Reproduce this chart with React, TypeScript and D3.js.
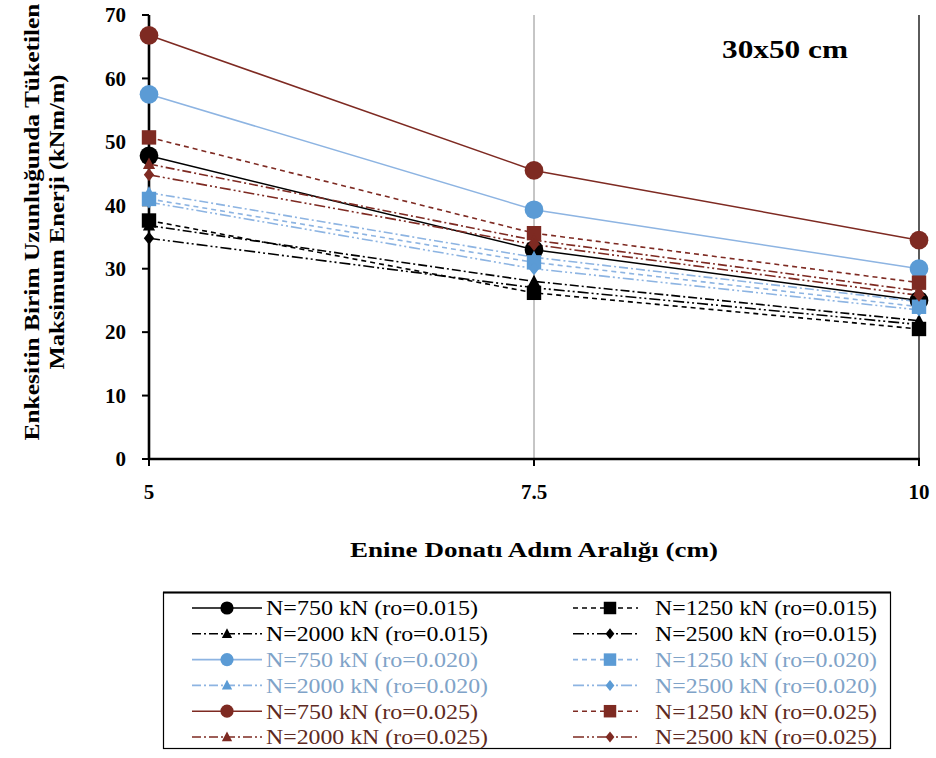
import React from "react";
import * as d3 from "d3";

const xValues = [5, 7.5, 10];
const xTickLabels = ["5", "7.5", "10"];
const yTicks = [0, 10, 20, 30, 40, 50, 60, 70];

const seriesNames = [
  "N=750 kN (ro=0.015)", "N=1250 kN (ro=0.015)",
  "N=2000 kN (ro=0.015)", "N=2500 kN (ro=0.015)",
  "N=750 kN (ro=0.020)", "N=1250 kN (ro=0.020)",
  "N=2000 kN (ro=0.020)", "N=2500 kN (ro=0.020)",
  "N=750 kN (ro=0.025)", "N=1250 kN (ro=0.025)",
  "N=2000 kN (ro=0.025)", "N=2500 kN (ro=0.025)",
];

const s750_015 = [47.8, 33.0, 25.0];
const s1250_015 = [37.6, 26.2, 20.5];
const s2000_015 = [36.8, 28.0, 21.8];
const s2500_015 = [34.8, 27.0, 21.2];
const s750_020 = [57.5, 39.3, 30.0];
const s1250_020 = [41.0, 31.0, 24.0];
const s2000_020 = [42.0, 31.8, 24.8];
const s2500_020 = [40.5, 30.0, 23.5];
const s750_025 = [66.8, 45.5, 34.5];
const s1250_025 = [50.7, 35.6, 27.8];
const s2000_025 = [46.5, 34.5, 26.5];
const s2500_025 = [44.8, 33.8, 25.8];

const seriesValues = [
  s750_015, s1250_015, s2000_015, s2500_015,
  s750_020, s1250_020, s2000_020, s2500_020,
  s750_025, s1250_025, s2000_025, s2500_025,
];

const groupColors = ["#000000", "#5b9bd5", "#7e2a22"];
const groupLineColors = ["#000000", "#8db4e2", "#7e2a22"];
const groupTextColors = ["#000000", "#7fa3c8", "#5e2a22"];
const markerTypes = ["circle", "square", "triangle", "diamond"];
const dashes = ["", "5,4", "9,3,2,3", "11,3,2,3,2,3"];

const FONT = "'Liberation Serif', 'Times New Roman', Times, serif";

function Marker({ type, x, y, size, color }: any) {
  if (type === "circle") return <circle cx={x} cy={y} r={size * 0.55} fill={color} />;
  if (type === "square")
    return <rect x={x - size * 0.48} y={y - size * 0.48} width={size * 0.96} height={size * 0.96} fill={color} />;
  if (type === "triangle") {
    const h = size * 0.85;
    return <path d={`M${x},${y - h * 0.6} L${x + h * 0.55},${y + h * 0.45} L${x - h * 0.55},${y + h * 0.45}Z`} fill={color} />;
  }
  const r = size * 0.5;
  return <path d={`M${x},${y - r} L${x + r * 0.8},${y} L${x},${y + r} L${x - r * 0.8},${y}Z`} fill={color} />;
}

export default function App() {
  const W = 936, H = 758;
  const x = d3.scaleLinear().domain([5, 10]).range([149, 919]);
  const y = d3.scaleLinear().domain([0, 70]).range([459, 15]);
  const line = d3.line<number>().x((_, i) => x(xValues[i])).y((d) => y(d));

  const legendRowY = (i: number) => 608 + i * 25.8;

  return (
    <svg width={W} height={H} style={{ position: "absolute", left: 0, top: 0, background: "#fff", fontFamily: FONT }}>
      <rect width={W} height={H} fill="#fff" />
      <line x1={x(7.5)} x2={x(7.5)} y1={y(70)} y2={y(0)} stroke="#8c8c8c" strokeWidth={1} />
      <line x1={x(10)} x2={x(10)} y1={y(70)} y2={y(0)} stroke="#333" strokeWidth={1.6} />
      <line x1={x(5)} x2={x(5)} y1={y(70)} y2={y(0)} stroke="#000" strokeWidth={2.6} />
      <line x1={x(5) - 1} x2={x(10) + 1} y1={y(0)} y2={y(0)} stroke="#000" strokeWidth={2.6} />
      {yTicks.map((t) => (
        <g key={t}>
          <line x1={x(5) - 7} x2={x(5)} y1={y(t)} y2={y(t)} stroke="#000" strokeWidth={2} />
          <text x={126} y={y(t)} dy="0.35em" textAnchor="end" fontSize={21} fontWeight="bold">{t}</text>
        </g>
      ))}
      {xValues.map((v, i) => (
        <g key={v}>
          <line x1={x(v)} x2={x(v)} y1={y(0)} y2={y(0) + 7} stroke="#000" strokeWidth={2} />
          <text x={x(v)} y={499} textAnchor="middle" fontSize={21} fontWeight="bold">{xTickLabels[i]}</text>
        </g>
      ))}
      {seriesValues.map((vals, i) => {
        const g = Math.floor(i / 4);
        const k = i % 4;
        return (
          <path key={"l" + i} d={line(vals) || ""} fill="none" stroke={groupLineColors[g]}
            strokeWidth={k === 0 ? 1.5 : 1.6} strokeDasharray={dashes[k]} />
        );
      })}
      {seriesValues.map((vals, i) => {
        const g = Math.floor(i / 4);
        const k = i % 4;
        const size = k === 0 ? 17 : k === 1 ? 15 : 13;
        return (
          <g key={"m" + i}>
            {vals.map((v, j) => (
              <Marker key={j} type={markerTypes[k]} x={x(xValues[j])} y={y(v)} size={size} color={groupColors[g]} />
            ))}
          </g>
        );
      })}
      <text x={722} y={58} fontSize={25} fontWeight="bold" textLength={126} lengthAdjust="spacingAndGlyphs">30x50 cm</text>
      <text x={534} y={557} textAnchor="middle" fontSize={22} fontWeight="bold" textLength={368} lengthAdjust="spacingAndGlyphs">Enine Donatı Adım Aralığı (cm)</text>
      <g transform="translate(39,222) rotate(-90)">
        <text x={0} y={0} textAnchor="middle" fontSize={21} fontWeight="bold" textLength={437} lengthAdjust="spacingAndGlyphs">Enkesitin Birim Uzunluğunda Tüketilen</text>
        <text x={0} y={25} textAnchor="middle" fontSize={21} fontWeight="bold" textLength={295} lengthAdjust="spacingAndGlyphs">Maksimum Enerji (kNm/m)</text>
      </g>
      <rect x={163.5} y={592.5} width={727} height={156} fill="#fff" stroke="#000" strokeWidth={1.2} />
      <line x1={163} x2={891} y1={592.5} y2={592.5} stroke="#000" strokeWidth={2} />
      {seriesNames.map((name, i) => {
        const g = Math.floor(i / 4);
        const k = i % 4;
        const col = i % 2;
        const row = Math.floor(i / 2);
        const ly = legendRowY(row);
        const x0 = col === 0 ? 192 : 573;
        const x1 = col === 0 ? 262 : 638;
        const mx = col === 0 ? 227 : 610;
        const tx = col === 0 ? 266 : 655;
        const size = k === 0 ? 12 : k === 1 ? 13 : 11;
        const tl = name.startsWith("N=750") ? 212 : 222;
        return (
          <g key={"lg" + i}>
            <line x1={x0} x2={x1} y1={ly} y2={ly} stroke={groupLineColors[g]} strokeWidth={1.6} strokeDasharray={dashes[k]} />
            <Marker type={markerTypes[k]} x={mx} y={ly} size={size} color={groupColors[g]} />
            <text x={tx} y={ly} dy="0.35em" fontSize={21} fill={groupTextColors[g]} textLength={tl} lengthAdjust="spacingAndGlyphs">{name}</text>
          </g>
        );
      })}
    </svg>
  );
}
